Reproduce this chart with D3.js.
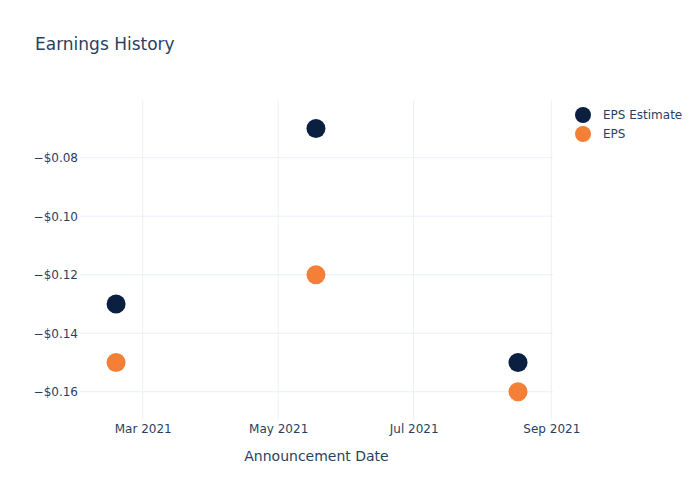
<!DOCTYPE html>
<html><head><meta charset="utf-8">
<script src="https://cdn.jsdelivr.net/npm/d3@7"></script>
<style>body{margin:0;background:#fff;} svg{display:block;font-family:"DejaVu Sans",sans-serif;}</style>
</head><body><svg id="c" width="700" height="500"></svg>
<script>
const dates = ["2021-02-17","2021-05-18","2021-08-17"];
const epsEstimate = [-0.13,-0.07,-0.15];
const eps = [-0.15,-0.12,-0.16];
const yTicks = [-0.16,-0.14,-0.12,-0.10,-0.08];
const xTicks = ["2021-03-01","2021-05-01","2021-07-01","2021-09-01"];
const seriesNames = ["EPS Estimate","EPS"];
const colors = ["#0b1f41","#f47f37"];
const textColor = "#2a3f5f", gridColor = "#ebf0f8";

const parse = d3.timeParse("%Y-%m-%d");
const svg = d3.select("#c");
const L=80,R=553,T=100,B=420;
const x0 = parse(dates[0]), x1 = parse(dates[dates.length-1]);
const x = d3.scaleTime().domain([d3.timeHour.offset(x0,-16*24-6), d3.timeHour.offset(x1,16*24-6)]).range([L,R]);
const y = d3.scaleLinear().domain([-0.16968,-0.06027]).range([B,T]);

// grid
svg.append("g").selectAll("line").data(xTicks).join("line")
  .attr("x1",d=>x(parse(d))).attr("x2",d=>x(parse(d))).attr("y1",T).attr("y2",B)
  .attr("stroke",gridColor).attr("stroke-width",1);
svg.append("g").selectAll("line").data(yTicks).join("line")
  .attr("x1",L).attr("x2",R).attr("y1",d=>y(d)).attr("y2",d=>y(d))
  .attr("stroke",gridColor).attr("stroke-width",1);

// axes
const fmt = d => "\u2212$" + Math.abs(d).toFixed(2);
const ya = d3.axisLeft(y).tickValues(yTicks).tickFormat(fmt).tickSize(0).tickPadding(2);
svg.append("g").attr("transform",`translate(${L},0)`).call(ya)
  .call(g=>g.select(".domain").remove())
  .call(g=>g.selectAll("text").attr("fill",textColor).attr("font-size",12).attr("font-family","DejaVu Sans"));
const xa = d3.axisBottom(x).tickValues(xTicks.map(parse)).tickFormat(d3.timeFormat("%b %Y")).tickSize(0).tickPadding(4);
svg.append("g").attr("transform",`translate(0,${B})`).call(xa)
  .call(g=>g.select(".domain").remove())
  .call(g=>g.selectAll("text").attr("fill",textColor).attr("font-size",12).attr("font-family","DejaVu Sans"));

// points
[epsEstimate, eps].forEach((vals,i)=>{
  svg.append("g").selectAll("circle").data(vals).join("circle")
    .attr("cx",(d,j)=>x(parse(dates[j]))).attr("cy",d=>y(d)).attr("r",9.5)
    .attr("fill",colors[i]);
});

// title
svg.append("text").attr("x",35).attr("y",50).attr("fill",textColor).attr("font-size",17).text("Earnings History");
svg.append("text").attr("x",(L+R)/2).attr("y",461).attr("text-anchor","middle").attr("fill",textColor).attr("font-size",14).text("Announcement Date");

// legend
const lg = svg.append("g");
seriesNames.forEach((n,i)=>{
  lg.append("circle").attr("cx",583).attr("cy",115+i*19).attr("r",8).attr("fill",colors[i]);
  lg.append("text").attr("x",603).attr("y",119+i*19).attr("fill",textColor).attr("font-size",12).text(n);
});
</script></body></html>
